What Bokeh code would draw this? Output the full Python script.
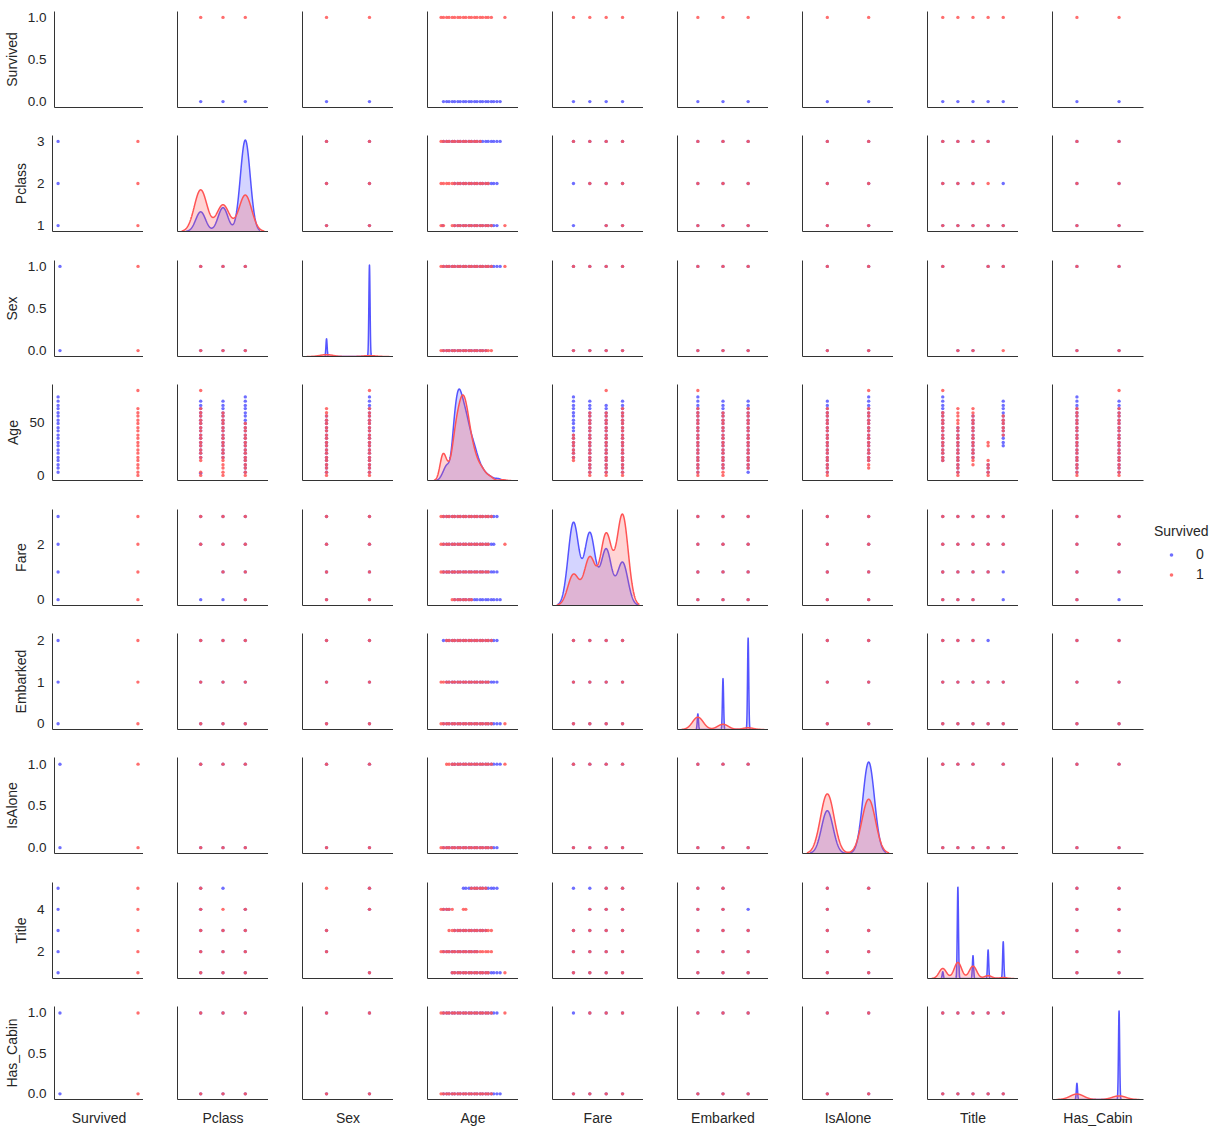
import numpy as np
from bokeh.plotting import figure
from bokeh.layouts import row as brow, column as bcol
from bokeh.models import Range1d, FixedTicker, NumeralTickFormatter, Legend, LegendItem
from bokeh.embed import file_html
from bokeh.resources import INLINE

# ------------------------------------------------------------------ data
VARS = ["Survived", "Pclass", "Sex", "Age", "Fare", "Embarked", "IsAlone", "Title", "Has_Cabin"]
HUE_LABELS = ["0", "1"]

survived_levels = [0, 1]
pclass_levels = [1, 2, 3]
sex_levels = [0, 1]
fare_levels = [0, 1, 2, 3]
embarked_levels = [0, 1, 2]
isalone_levels = [0, 1]
title_levels = [1, 2, 3, 4, 5]
has_cabin_levels = [0, 1]

# passenger counts per level (for the diagonal density curves)
pclass_counts_died = [80, 97, 372]
pclass_counts_surv = [136, 87, 119]
sex_counts_surv = [233, 109]
fare_counts_died = [179, 156, 121, 93]
fare_counts_surv = [44, 68, 101, 129]
embarked_counts_surv = [219, 93, 30]
isalone_counts_died = [175, 374]
isalone_counts_surv = [179, 163]
title_counts_surv = [81, 130, 100, 23, 8]
has_cabin_counts_surv = [206, 136]
age_bin_centers = [2, 7, 12, 17, 22, 27, 32, 37, 42, 47, 52, 57, 62, 67, 72, 77]
age_counts_died = [8, 22, 14, 85, 115, 95, 78, 55, 42, 24, 14, 8, 5, 2, 3, 0]
age_counts_surv = [30, 12, 10, 40, 55, 68, 58, 35, 22, 13, 10, 4, 4, 0, 0, 1]

# degenerate (spiky) density curves of the died group: peak heights per level
sex_spikes_died = [17.0, 88.0]
embarked_spikes_died = [1.51, 4.92, 8.84]
title_spikes_died = [0.26, 3.53, 0.88, 1.10, 1.42]
has_cabin_spikes_died = [4.4, 24.1]

# y tick values / labels of the left column
yticks_survived = [0, 0.5, 1];  ylabels_survived = ["0.0", "0.5", "1.0"]
yticks_pclass = [1, 2, 3];      ylabels_pclass = ["1", "2", "3"]
yticks_sex = [0, 0.5, 1];       ylabels_sex = ["0.0", "0.5", "1.0"]
yticks_age = [0, 50];           ylabels_age = ["0", "50"]
yticks_fare = [0, 2];           ylabels_fare = ["0", "2"]
yticks_embarked = [0, 1, 2];    ylabels_embarked = ["0", "1", "2"]
yticks_isalone = [0, 0.5, 1];   ylabels_isalone = ["0.0", "0.5", "1.0"]
yticks_title = [2, 4];          ylabels_title = ["2", "4"]
yticks_has_cabin = [0, 0.5, 1]; ylabels_has_cabin = ["0.0", "0.5", "1.0"]

# combinations present for discrete pairs that are not complete grids
pclass_fare_died = [(1, 0), (1, 2), (1, 3), (2, 0), (2, 1), (2, 2), (2, 3), (3, 0), (3, 1), (3, 2), (3, 3)]
pclass_fare_surv = [(1, 2), (1, 3), (2, 1), (2, 2), (2, 3), (3, 0), (3, 1), (3, 2), (3, 3)]
pclass_title_died = [(1, 1), (1, 2), (1, 3), (1, 4), (1, 5), (2, 1), (2, 2), (2, 3), (2, 5),
                     (3, 1), (3, 2), (3, 3), (3, 4)]
pclass_title_surv = [(1, 1), (1, 2), (1, 3), (1, 4), (1, 5), (2, 1), (2, 2), (2, 3), (2, 4),
                     (3, 1), (3, 2), (3, 3), (3, 4)]
sex_title_died = [(0, 2), (0, 3), (1, 1), (1, 4), (1, 5)]
sex_title_surv = [(0, 2), (0, 3), (0, 5), (1, 1), (1, 4), (1, 5)]
fare_title_died = [(0, 1), (0, 2), (0, 3), (0, 5), (1, 1), (1, 2), (1, 3), (1, 4), (1, 5),
                   (2, 1), (2, 2), (2, 3), (2, 4), (2, 5), (3, 1), (3, 2), (3, 3), (3, 4), (3, 5)]
fare_title_surv = [(0, 1), (0, 2), (0, 3), (1, 1), (1, 2), (1, 3), (1, 4),
                   (2, 1), (2, 2), (2, 3), (2, 4), (2, 5), (3, 1), (3, 2), (3, 3), (3, 4), (3, 5)]
fare_has_cabin_surv = [(0, 0), (1, 0), (1, 1), (2, 0), (2, 1), (3, 0), (3, 1)]
embarked_title_died = [(0, 1), (0, 2), (0, 3), (0, 4), (0, 5), (1, 1), (1, 2), (1, 3), (1, 4), (1, 5),
                       (2, 1), (2, 2), (2, 3), (2, 4)]
embarked_title_surv = [(0, 1), (0, 2), (0, 3), (0, 4), (0, 5), (1, 1), (1, 2), (1, 3), (1, 4), (1, 5),
                       (2, 1), (2, 2), (2, 3)]
isalone_title_died = [(0, 1), (0, 2), (0, 3), (0, 4), (0, 5), (1, 1), (1, 2), (1, 3), (1, 5)]
isalone_title_surv = [(0, 1), (0, 2), (0, 3), (0, 4), (0, 5), (1, 1), (1, 2), (1, 3), (1, 5)]

# ages at which the age-scatter markers sit (as they appear along the age axis)
age_marks = [0, 3, 7, 10, 14, 17, 21, 24, 28, 31, 35, 38, 42, 45, 49, 52, 56, 59, 63, 66, 70, 74, 80]
# age spans (years) present per level of the other variable; single-year spans are exact ages
age_by_survived_died = {0: [(1, 74)]}
age_by_survived_surv = {1: [(0, 63), (80, 80)]}
age_by_pclass_died = {1: [(2, 2), (17, 71)], 2: [(16, 70)], 3: [(1, 74)]}
age_by_pclass_surv = {1: [(0, 6), (11, 64), (80, 80)], 2: [(0, 62)], 3: [(0, 50)]}
age_by_sex_died = {0: [(2, 57)], 1: [(1, 74)]}
age_by_sex_surv = {0: [(0, 64)], 1: [(0, 64), (80, 80)]}
age_by_fare_died = {0: [(15, 74)], 1: [(1, 71)], 2: [(1, 66)], 3: [(2, 71)]}
age_by_fare_surv = {0: [(14, 40)], 1: [(0, 60)], 2: [(0, 61), (80, 80)], 3: [(0, 64)]}
age_by_embarked_died = {0: [(1, 74)], 1: [(4, 71)], 2: [(2, 70)]}
age_by_embarked_surv = {0: [(0, 63), (80, 80)], 1: [(0, 60)], 2: [(5, 63)]}
age_by_isalone_died = {0: [(1, 70)], 1: [(11, 74)]}
age_by_isalone_surv = {0: [(0, 63)], 1: [(5, 63), (80, 80)]}
age_by_title_died = {1: [(11, 74)], 2: [(2, 45)], 3: [(17, 57)], 4: [(1, 12)], 5: [(27, 70)]}
age_by_title_surv = {1: [(14, 62), (80, 80)], 2: [(0, 63)], 3: [(10, 63)], 4: [(0, 14), (28, 31)],
                     5: [(38, 56)]}
age_by_has_cabin_died = {0: [(1, 74)], 1: [(2, 71)]}
age_by_has_cabin_surv = {0: [(0, 63)], 1: [(0, 63), (80, 80)]}

# ------------------------------------------------------------------ lookups
LEVELS = {"Survived": survived_levels, "Pclass": pclass_levels, "Sex": sex_levels,
          "Fare": fare_levels, "Embarked": embarked_levels, "IsAlone": isalone_levels,
          "Title": title_levels, "Has_Cabin": has_cabin_levels}
PAIRS = {("Pclass", "Fare"): (pclass_fare_died, pclass_fare_surv),
         ("Pclass", "Title"): (pclass_title_died, pclass_title_surv),
         ("Sex", "Title"): (sex_title_died, sex_title_surv),
         ("Fare", "Title"): (fare_title_died, fare_title_surv),
         ("Fare", "Has_Cabin"): (None, fare_has_cabin_surv),
         ("Embarked", "Title"): (embarked_title_died, embarked_title_surv),
         ("IsAlone", "Title"): (isalone_title_died, isalone_title_surv)}
AGE_BY = {"Survived": (age_by_survived_died, age_by_survived_surv),
          "Pclass": (age_by_pclass_died, age_by_pclass_surv),
          "Sex": (age_by_sex_died, age_by_sex_surv),
          "Fare": (age_by_fare_died, age_by_fare_surv),
          "Embarked": (age_by_embarked_died, age_by_embarked_surv),
          "IsAlone": (age_by_isalone_died, age_by_isalone_surv),
          "Title": (age_by_title_died, age_by_title_surv),
          "Has_Cabin": (age_by_has_cabin_died, age_by_has_cabin_surv)}
YTICKS = {"Survived": (yticks_survived, ylabels_survived), "Pclass": (yticks_pclass, ylabels_pclass),
          "Sex": (yticks_sex, ylabels_sex), "Age": (yticks_age, ylabels_age),
          "Fare": (yticks_fare, ylabels_fare), "Embarked": (yticks_embarked, ylabels_embarked),
          "IsAlone": (yticks_isalone, ylabels_isalone), "Title": (yticks_title, ylabels_title),
          "Has_Cabin": (yticks_has_cabin, ylabels_has_cabin)}

# ------------------------------------------------------------------ layout / style
XR = {"Survived": (-0.07, 1.07), "Pclass": (-0.04, 4.04), "Sex": (-0.56, 1.56), "Age": (-17, 97),
      "Fare": (-1.28, 4.28), "Embarked": (-0.81, 2.81), "IsAlone": (-0.6, 1.6),
      "Title": (-0.01, 6.01), "Has_Cabin": (-0.58, 1.58)}
YR = {"Survived": (-0.07, 1.07), "Pclass": (0.86, 3.14), "Sex": (-0.07, 1.07), "Age": (-4.8, 85.7),
      "Fare": (-0.21, 3.25), "Embarked": (-0.14, 2.17), "IsAlone": (-0.07, 1.08),
      "Title": (0.73, 5.27), "Has_Cabin": (-0.07, 1.08)}
FRAME_W, FRAME_H = 91, 96
COL_LEFT = [52] + [34] * 8
LEGEND_W = 66
ROW_TOP = [11, 14, 15, 14, 15, 14, 14, 15, 14]
ROW_BOTTOM = [14] * 8 + [26]
LEGEND_ROW = 4
BLUE, RED = "#5555ff", "#ff5555"
COLORS = [BLUE, RED]
FONT = "Liberation Sans"
AXC = "#333333"
TXT = "#262626"
SPIKE_PX = 0.6
MARK = dict(marker="circle", size=3.4, line_color=None, fill_alpha=0.85)
SQ2PI = np.sqrt(2 * np.pi)


def ages_in(runs):
    out = []
    for lo, hi in runs:
        if lo == hi:
            out.append(lo)
        else:
            out.extend(a for a in age_marks if lo <= a <= hi)
    return out


def pair_points(a, b, g):
    """list of (value_a, value_b) for hue group g"""
    if a == "Survived" or b == "Survived":
        other = b if a == "Survived" else a
        if other == "Age":
            vals = ages_in(AGE_BY["Survived"][g][g])
        else:
            vals = LEVELS[other]
        pts = [(g, v) for v in vals]
        return pts if a == "Survived" else [(v, s) for s, v in pts]
    if a == "Age" or b == "Age":
        other = b if a == "Age" else a
        pts = []
        for lev, runs in AGE_BY[other][g].items():
            for age in ages_in(runs):
                pts.append((age, lev))
        return pts if a == "Age" else [(lev, age) for age, lev in pts]
    key = (a, b) if VARS.index(a) < VARS.index(b) else (b, a)
    combos = PAIRS.get(key, (None, None))[g]
    if combos is None:
        combos = [(u, v) for u in LEVELS[key[0]] for v in LEVELS[key[1]]]
    if key == (a, b):
        return list(combos)
    return [(v, u) for u, v in combos]


def scott_bw(values, counts):
    sample = np.repeat(np.asarray(values, float), counts)
    sd = sample.std(ddof=1)
    iqr = (np.percentile(sample, 75) - np.percentile(sample, 25)) / 1.349
    return 1.059 * min(sd, iqr) * len(sample) ** -0.2


def kde_from_counts(values, counts, n=1500):
    bw = scott_bw(values, counts)
    v = np.asarray(values, float)
    w = np.asarray(counts, float)
    keep = w > 0
    v, w = v[keep], w[keep] / w.sum()
    x = np.linspace(v.min() - 3 * bw, v.max() + 3 * bw, n)
    y = (w[None, :] * np.exp(-0.5 * ((x[:, None] - v[None, :]) / bw) ** 2)).sum(1) / (bw * SQ2PI)
    return x, y


def kde_spikes(values, heights, span, n=6000):
    bw = SPIKE_PX * span / FRAME_W
    v = np.asarray(values, float)
    h = np.asarray(heights, float)
    x = np.linspace(v.min() - 4 * bw, v.max() + 4 * bw, n)
    y = (h[None, :] * np.exp(-0.5 * ((x[:, None] - v[None, :]) / bw) ** 2)).sum(1)
    return x, y


def span_of(var):
    return XR[var][1] - XR[var][0]


DIAG = {
    "Pclass": [kde_from_counts(pclass_levels, pclass_counts_died),
               kde_from_counts(pclass_levels, pclass_counts_surv)],
    "Sex": [kde_spikes(sex_levels, sex_spikes_died, span_of("Sex")),
            kde_from_counts(sex_levels, sex_counts_surv)],
    "Age": [kde_from_counts(age_bin_centers, age_counts_died),
            kde_from_counts(age_bin_centers, age_counts_surv)],
    "Fare": [kde_from_counts(fare_levels, fare_counts_died),
             kde_from_counts(fare_levels, fare_counts_surv)],
    "Embarked": [kde_spikes(embarked_levels, embarked_spikes_died, span_of("Embarked")),
                 kde_from_counts(embarked_levels, embarked_counts_surv)],
    "IsAlone": [kde_from_counts(isalone_levels, isalone_counts_died),
                kde_from_counts(isalone_levels, isalone_counts_surv)],
    "Title": [kde_spikes(title_levels, title_spikes_died, span_of("Title")),
              kde_from_counts(title_levels, title_counts_surv)],
    "Has_Cabin": [kde_spikes(has_cabin_levels, has_cabin_spikes_died, span_of("Has_Cabin")),
                  kde_from_counts(has_cabin_levels, has_cabin_counts_surv)],
}

# ------------------------------------------------------------------ build
x_ranges = {v: Range1d(*XR[v]) for v in VARS}
y_ranges = {v: Range1d(*YR[v]) for v in VARS}

rows = []
for r, yv in enumerate(VARS):
    row_figs = []
    for c, xv in enumerate(VARS):
        diag = (r == c)
        right = LEGEND_W if (c == len(VARS) - 1 and r != LEGEND_ROW) else 0
        if diag and yv in DIAG:
            ymax = max(float(np.max(curve[1])) for curve in DIAG[yv])
            yr = Range1d(0, ymax * 1.05)
        else:
            yr = y_ranges[yv]
        p = figure(width=COL_LEFT[c] + FRAME_W + right,
                   height=ROW_TOP[r] + FRAME_H + ROW_BOTTOM[r],
                   x_range=x_ranges[xv], y_range=yr,
                   tools="", toolbar_location=None, output_backend="svg",
                   min_border_left=COL_LEFT[c], min_border_right=right,
                   min_border_top=ROW_TOP[r], min_border_bottom=ROW_BOTTOM[r])
        p.outline_line_color = None
        p.grid.visible = False
        p.background_fill_color = "white"
        p.border_fill_color = "white"

        xa, ya = p.xaxis[0], p.yaxis[0]
        for a in (xa, ya):
            a.axis_line_color = AXC
            a.axis_line_width = 1
            a.major_tick_line_color = None
            a.minor_tick_line_color = None
            a.major_tick_out = 0
            a.major_tick_in = 0
            a.minor_tick_out = 0
            a.minor_tick_in = 0
            a.major_label_text_font = FONT
            a.major_label_text_font_size = "13.5px"
            a.major_label_text_color = TXT
            a.axis_label_text_font = FONT
            a.axis_label_text_font_size = "14px"
            a.axis_label_text_color = TXT
            a.axis_label_text_font_style = "normal"
        xa.ticker = FixedTicker(ticks=[])
        xa.major_label_standoff = 0
        if r == len(VARS) - 1:
            xa.axis_label = xv
            xa.axis_label_standoff = 10
        if c == 0:
            ticks, labels = YTICKS[yv]
            ya.ticker = FixedTicker(ticks=ticks)
            if any(isinstance(t, float) for t in ticks):
                ya.formatter = NumeralTickFormatter(format="0.0")
            ya.major_label_overrides = {t: s for t, s in zip(ticks, labels)}
            ya.major_label_standoff = 8
            ya.axis_label = yv
            ya.axis_label_standoff = 5
        else:
            ya.ticker = FixedTicker(ticks=[])
            ya.major_label_standoff = 0

        if diag:
            if yv in DIAG:
                for g, (xx, yy) in enumerate(DIAG[yv]):
                    p.line(xx, yy, line_color=COLORS[g], line_width=1.5)
                    p.varea(x=xx, y1=np.zeros_like(yy), y2=yy, fill_color=COLORS[g], fill_alpha=0.25)
        else:
            for g in (0, 1):
                pts = pair_points(xv, yv, g)
                p.scatter([pt[0] for pt in pts], [pt[1] for pt in pts], fill_color=COLORS[g], **MARK)
        row_figs.append(p)

    if r == LEGEND_ROW:
        # legend panel: key glyphs come from hidden copies of the Fare/Has_Cabin scatter groups
        lf = figure(width=LEGEND_W, height=ROW_TOP[r] + FRAME_H + ROW_BOTTOM[r],
                    x_range=Range1d(0, 1), y_range=Range1d(0, 1),
                    x_axis_type=None, y_axis_type=None,
                    tools="", toolbar_location=None, output_backend="svg",
                    min_border_left=0, min_border_right=0, min_border_top=0, min_border_bottom=0)
        lf.outline_line_color = None
        lf.grid.visible = False
        key_rends = []
        for g in (0, 1):
            pts = pair_points("Has_Cabin", "Fare", g)
            kr = lf.scatter([pt[0] for pt in pts], [pt[1] for pt in pts], fill_color=COLORS[g], **MARK)
            kr.visible = False
            key_rends.append(kr)
        leg = Legend(items=[LegendItem(label=HUE_LABELS[g], renderers=[key_rends[g]]) for g in (0, 1)],
                     title="Survived", location=(11, 23),
                     padding=0, margin=0, spacing=4,
                     glyph_width=34, glyph_height=9, label_height=16, label_standoff=8,
                     label_text_font=FONT, label_text_font_size="14px", label_text_color=TXT,
                     title_text_font=FONT, title_text_font_size="14px", title_text_color=TXT,
                     title_text_font_style="normal", title_standoff=7,
                     inactive_fill_alpha=0,
                     border_line_alpha=0, background_fill_alpha=0)
        lf.add_layout(leg)
        row_figs.append(lf)
    rows.append(brow(*row_figs, spacing=0))

page = bcol(*rows, spacing=0)
open("out.html", "w").write(file_html(page, INLINE))
